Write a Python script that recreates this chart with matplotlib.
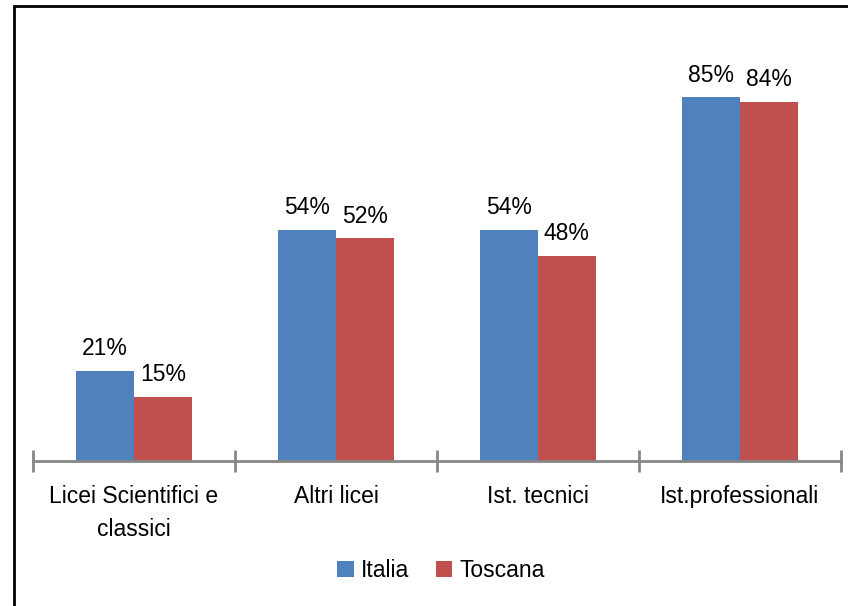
import matplotlib.pyplot as plt
import numpy as np
from matplotlib.patches import Rectangle

# data
categories = ["Licei Scientifici e\nclassici", "Altri licei", "Ist. tecnici", "Ist.professionali"]
italia = [21, 54, 54, 85]
toscana = [15, 52, 48, 84]
series_names = ["Italia", "Toscana"]
colors = ["#4F81BD", "#C0504D"]

plt.rcParams['font.family'] = ['Liberation Sans Narrow', 'Liberation Sans', 'DejaVu Sans']

fig = plt.figure(figsize=(8.48, 6.06), dpi=100)
ax = fig.add_axes([0.0389, 0.2393, 0.9528, 0.7062])

x = np.arange(len(categories))
w = 0.285
b1 = ax.bar(x - w / 2, italia, w, color=colors[0], label=series_names[0])
b2 = ax.bar(x + w / 2, toscana, w, color=colors[1], label=series_names[1])

for bars, vals in ((b1, italia), (b2, toscana)):
    for r, v in zip(bars, vals):
        ax.text(r.get_x() + r.get_width() / 2, v + 2.5, f"{v}%",
                ha='center', va='bottom', fontsize=16.5)

ax.set_xlim(-0.5, len(categories) - 0.5)
ax.set_ylim(0, 100)
for s in ['top', 'right', 'left']:
    ax.spines[s].set_visible(False)
ax.spines['bottom'].set_color('#868686')
ax.spines['bottom'].set_linewidth(2)
ax.set_yticks([])

# boundary tick marks
ax.set_xticks(np.arange(-0.5, len(categories), 1.0))
ax.set_xticklabels([])
ax.tick_params(axis='x', direction='inout', length=16, width=2, color='#868686')
for i, c in enumerate(categories):
    ax.text(i, -5.5, c, ha='center', va='top', fontsize=16.5, linespacing=1.6)

fig.legend(handles=[b1, b2], labels=series_names, loc='center',
           bbox_to_anchor=(0.52, 0.058), ncol=2, frameon=False, fontsize=16.5,
           handlelength=0.7, handleheight=0.7, handletextpad=0.3, columnspacing=1.2)

# outer border (only top/left visible in crop)
fig.add_artist(Rectangle((14 / 848, -0.1), 1.2, 1 - 6 / 606 + 0.1, transform=fig.transFigure,
                         fill=False, edgecolor='black', linewidth=2))

fig.savefig("out.png", dpi=100)
